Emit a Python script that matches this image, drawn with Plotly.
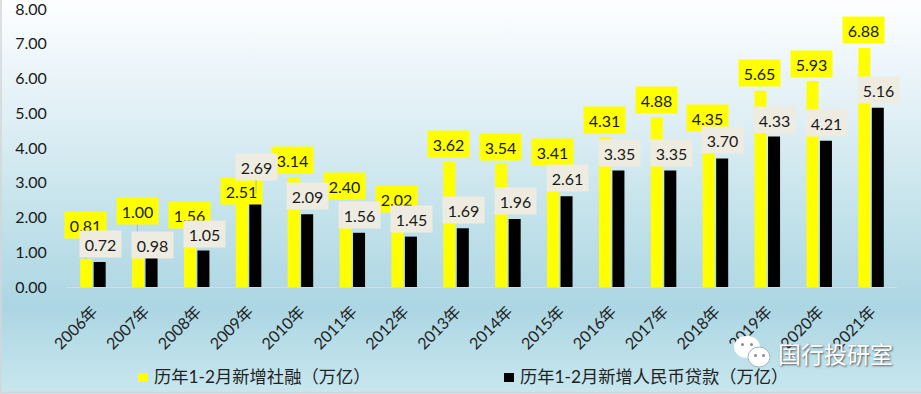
import base64
import plotly.graph_objects as go

W, H = 921, 394
L, R, T, B = 67, 24, 9, 107

years = ["2006年","2007年","2008年","2009年","2010年","2011年","2012年","2013年",
         "2014年","2015年","2016年","2017年","2018年","2019年","2020年","2021年"]
social_financing = [0.81,1.00,1.56,2.51,3.14,2.40,2.02,3.62,3.54,3.41,4.31,4.88,4.35,5.65,5.93,6.88]
rmb_loans = [0.72,0.98,1.05,2.69,2.09,1.56,1.45,1.69,1.96,2.61,3.35,3.35,3.70,4.33,4.21,5.16]
name_sf = "历年1-2月新增社融（万亿）"
name_loans = "历年1-2月新增人民币贷款（万亿）"
y_ticks = [0, 1, 2, 3, 4, 5, 6, 7, 8]

# pixel lift of each data label centre above its bar top
lift_sf = [34,41,18,9,18,18,18,17,17,17,17,17,18,18,17,18]
lift_loans = [18,8,17,27,18,18,18,18,18,18,18,18,18,17,18,18]

FONT = "Lato, 'Noto Sans CJK SC', sans-serif"
YELLOW = "#FFFF00"
LABEL_GREY = "#EEECE1"
TEXT = "#1a1a1a"
NUM_SIZE = 16

svg = f'''<svg xmlns="http://www.w3.org/2000/svg" width="{W}" height="{H}" preserveAspectRatio="none">
<defs><linearGradient id="g" x1="0" y1="0" x2="0" y2="1">
<stop offset="0" stop-color="#fdfeff"/><stop offset="0.3" stop-color="#dfeff5"/>
<stop offset="0.55" stop-color="#c3e2ea"/><stop offset="0.78" stop-color="#acd6e3"/>
<stop offset="1" stop-color="#c8e7ee"/></linearGradient></defs>
<rect width="{W}" height="{H}" fill="url(#g)"/></svg>'''
bg_uri = "data:image/svg+xml;base64," + base64.b64encode(svg.encode()).decode()

PW, PH = W - L - R, H - T - B
def px(x): return (x - L) / PW
def py(y): return 1 - (y - T) / PH

fig = go.Figure()
fig.add_bar(x=years, y=social_financing, name=name_sf, marker=dict(color=YELLOW, line_width=0))
fig.add_bar(x=years, y=rmb_loans, name=name_loans, marker=dict(color="#000000", line_width=0))

annotations = []
def labels(values, lifts, shift, bg):
    for yr, v, lift in zip(years, values, lifts):
        annotations.append(dict(
            x=yr, y=v, xref="x", yref="y", xshift=shift, text=f"{v:.2f}",
            showarrow=True, arrowhead=0, arrowwidth=1,
            arrowcolor="#b5b5b5" if lift > 25 else "rgba(0,0,0,0)",
            ax=0, ay=-lift, axref="pixel", ayref="pixel", standoff=0,
            width=41, height=26, borderpad=0, bgcolor=bg, valign="middle",
            font=dict(size=NUM_SIZE, color=TEXT, family=FONT)))
labels(social_financing, lift_sf, -7.5, YELLOW)
labels(rmb_loans, lift_loans, 7.5, LABEL_GREY)

# legend entries
def legend_text(x_left, text):
    annotations.append(dict(x=px(x_left), y=py(376), xref="paper", yref="paper", showarrow=False,
                            xanchor="left", yanchor="middle", text=text,
                            font=dict(size=17.3, color="#222222", family=FONT)))
legend_text(152, name_sf)
legend_text(518, name_loans)

# watermark text
annotations.append(dict(
    x=px(835), y=py(353), xref="paper", yref="paper", showarrow=False, text="国行投研室",
    xanchor="center", yanchor="middle",
    font=dict(size=23, color="#ffffff", family="'Noto Sans CJK SC'", shadow="1px 1px 2px #555")))

def circle(x0, y0, x1, y1, fill, line="rgba(0,0,0,0)"):
    return dict(type="circle", xref="paper", yref="paper", layer="above",
                x0=px(x0), x1=px(x1), y0=py(y1), y1=py(y0),
                fillcolor=fill, line=dict(color=line, width=1))
def square(x0, y0, x1, y1, fill):
    return dict(type="rect", xref="paper", yref="paper", layer="above",
                x0=px(x0), x1=px(x1), y0=py(y1), y1=py(y0), fillcolor=fill, line_width=0)

shapes = [
    dict(type="rect", xref="paper", yref="paper", layer="below",
         x0=px(1), x1=px(W + 5), y0=py(392.5), y1=py(-5),
         fillcolor="rgba(0,0,0,0)", line=dict(color="#d2d6d8", width=1.5)),
    square(138, 373, 148, 382, YELLOW),
    square(504, 373, 514, 382, "#000000"),
    circle(734, 336, 760, 358, "#ffffff"),
    circle(748, 347, 770, 367, "#ffffff", "#9ab5bf"),
    circle(741, 343, 744, 346, "#8a8a8a"),
    circle(750, 343, 753, 346, "#8a8a8a"),
    circle(754, 354, 757, 357, "#8a8a8a"),
    circle(762, 354, 765, 357, "#8a8a8a"),
]

fig.update_layout(
    width=W, height=H, autosize=False, showlegend=False,
    margin=dict(l=L, r=R, t=T, b=B, pad=0),
    paper_bgcolor="rgba(0,0,0,0)", plot_bgcolor="rgba(0,0,0,0)",
    barmode="group", bargap=0.48, bargroupgap=0.11,
    font=dict(family=FONT, color=TEXT),
    images=[dict(source=bg_uri, xref="paper", yref="paper", layer="below",
                 x=px(0), y=py(0), sizex=W / PW, sizey=H / PH,
                 xanchor="left", yanchor="top", sizing="stretch")],
    shapes=shapes, annotations=annotations,
    xaxis=dict(type="category", range=[-0.5, len(years) - 0.5], tickangle=-45, showgrid=False,
               showline=True, automargin=False,
               linecolor="#d5dde0", linewidth=1, ticks="outside", ticklen=8,
               tickcolor="rgba(0,0,0,0)", tickfont=dict(size=16, color="#222222", family=FONT),
               fixedrange=True),
    yaxis=dict(range=[0, 8], tickvals=y_ticks, tickformat=".2f", showgrid=False, showline=False,
               automargin=False, zeroline=False, ticks="outside", ticklen=16,
               tickcolor="rgba(0,0,0,0)", ticklabeloverflow="allow",
               tickfont=dict(size=NUM_SIZE, color=TEXT, family=FONT), fixedrange=True),
)
fig.write_html("out.html", config={"displayModeBar": False},
               post_script="document.body.style.margin='0';document.documentElement.style.overflow='hidden';")
